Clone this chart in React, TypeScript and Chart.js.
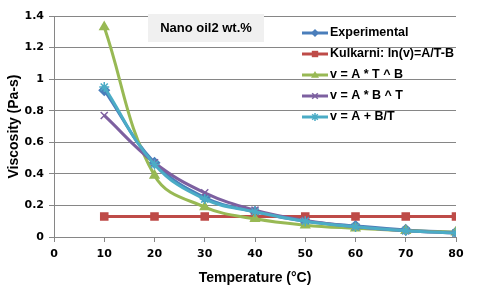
import React, { useEffect, useRef } from "react";
import { Chart, registerables } from "chart.js";

Chart.register(...registerables);

const temps = [10, 20, 30, 40, 50, 60, 70, 80];
const experimental = [0.93, 0.47, 0.25, 0.16, 0.1, 0.07, 0.045, 0.03];
const kulkarni = [0.13, 0.13, 0.13, 0.13, 0.13, 0.13, 0.13, 0.13];
const powerFit = [1.33, 0.39, 0.19, 0.115, 0.075, 0.055, 0.04, 0.03];
const expFit = [0.77, 0.47, 0.28, 0.17, 0.105, 0.065, 0.04, 0.025];
const hypFit = [0.95, 0.46, 0.24, 0.16, 0.1, 0.065, 0.04, 0.025];
const seriesNames = [
  "Experimental",
  "Kulkarni: ln(v)=A/T-B",
  "v = A * T ^ B",
  "v = A * B ^ T",
  "v = A + B/T",
];
const seriesColors = ["#4a7ebb", "#be4b48", "#98b954", "#7d60a0", "#4bacc6"];
const seriesPoints = ["rectRot", "rect", "triangle", "crossRot", "star"];
const titleText = "Nano oil2 wt.%";

const FONT = "'Liberation Sans', Arial, sans-serif";
const TICKFONT = "'DejaVu Sans', Verdana, sans-serif";

function marker(ctx: CanvasRenderingContext2D, style: string, x: number, y: number, r: number, color: string) {
  ctx.save();
  ctx.fillStyle = color;
  ctx.strokeStyle = color;
  ctx.lineWidth = 1.5;
  ctx.beginPath();
  if (style === "rectRot") {
    ctx.moveTo(x, y - r);
    ctx.lineTo(x + r, y);
    ctx.lineTo(x, y + r);
    ctx.lineTo(x - r, y);
    ctx.closePath();
    ctx.fill();
  } else if (style === "rect") {
    ctx.rect(x - r * 0.8, y - r * 0.8, r * 1.6, r * 1.6);
    ctx.fill();
  } else if (style === "triangle") {
    ctx.moveTo(x, y - r);
    ctx.lineTo(x + r, y + r * 0.7);
    ctx.lineTo(x - r, y + r * 0.7);
    ctx.closePath();
    ctx.fill();
  } else if (style === "crossRot") {
    ctx.moveTo(x - r * 0.7, y - r * 0.7);
    ctx.lineTo(x + r * 0.7, y + r * 0.7);
    ctx.moveTo(x + r * 0.7, y - r * 0.7);
    ctx.lineTo(x - r * 0.7, y + r * 0.7);
    ctx.stroke();
  } else {
    ctx.moveTo(x - r * 0.7, y - r * 0.7);
    ctx.lineTo(x + r * 0.7, y + r * 0.7);
    ctx.moveTo(x + r * 0.7, y - r * 0.7);
    ctx.lineTo(x - r * 0.7, y + r * 0.7);
    ctx.moveTo(x, y - r);
    ctx.lineTo(x, y + r);
    ctx.stroke();
  }
  ctx.restore();
}

const overlayPlugin = {
  id: "overlay",
  afterDraw(chart: any) {
    const ctx = chart.ctx as CanvasRenderingContext2D;
    ctx.save();
    // title box
    ctx.fillStyle = "#f0f0f0";
    ctx.fillRect(148, 14, 116, 28);
    ctx.fillStyle = "#000";
    ctx.font = `bold 13px ${FONT}`;
    ctx.textAlign = "center";
    ctx.textBaseline = "middle";
    ctx.fillText(titleText, 206, 28);
    // legend
    ctx.textAlign = "left";
    ctx.font = `bold 12.5px ${FONT}`;
    seriesNames.forEach((name, i) => {
      const y = 33 + i * 21;
      ctx.strokeStyle = seriesColors[i];
      ctx.lineWidth = 3;
      ctx.beginPath();
      ctx.moveTo(302, y);
      ctx.lineTo(328, y);
      ctx.stroke();
      marker(ctx, seriesPoints[i], 315, y, 4, seriesColors[i]);
      ctx.fillStyle = "#000";
      ctx.fillText(name, 330, y);
    });
    ctx.restore();
  },
};

export default function App() {
  const ref = useRef<HTMLCanvasElement>(null);
  useEffect(() => {
    const datas = [experimental, kulkarni, powerFit, expFit, hypFit];
    const chart = new Chart(ref.current!, {
      type: "line",
      data: {
        labels: temps,
        datasets: datas.map((d, i) => ({
          label: seriesNames[i],
          data: d.map((v, j) => ({ x: temps[j], y: v })),
          borderColor: seriesColors[i],
          backgroundColor: seriesColors[i],
          pointBorderColor: seriesColors[i],
          pointStyle: seriesPoints[i] as any,
          pointRadius: 5,
          pointBorderWidth: 1.5,
          borderWidth: 3,
          tension: 0.4,
          order: 4 - i,
        })),
      },
      options: {
        animation: false,
        responsive: false,
        layout: { padding: { top: 16, right: 27, left: 6, bottom: 10 } },
        plugins: { legend: { display: false }, tooltip: { enabled: false } },
        scales: {
          x: {
            type: "linear",
            min: 0,
            max: 80,
            ticks: {
              stepSize: 10,
              color: "#000",
              font: { family: TICKFONT, size: 11, weight: "bold" },
              padding: 6,
            },
            grid: { display: true, drawOnChartArea: false, color: "#868686", tickLength: 5 },
            border: { color: "#868686" },
            title: {
              display: true,
              text: "Temperature (°C)",
              color: "#000",
              font: { family: FONT, size: 14, weight: "bold" },
              padding: { top: 0, bottom: 0 },
            },
            afterFit(scale: any) {
              scale.height = 50;
            },
          },
          y: {
            min: 0,
            max: 1.4,
            ticks: {
              stepSize: 0.2,
              color: "#000",
              font: { family: TICKFONT, size: 11, weight: "bold" },
              padding: 5,
              callback: (v: any) => String(Math.round(Number(v) * 10) / 10),
            },
            grid: { color: "#868686", tickLength: 5 },
            border: { color: "#868686" },
            title: {
              display: true,
              text: "Viscosity (Pa-s)",
              color: "#000",
              font: { family: FONT, size: 14, weight: "bold" },
              padding: { top: 0, bottom: 0 },
            },
            afterFit(scale: any) {
              scale.width = 48;
            },
          },
        },
      },
      plugins: [overlayPlugin],
    } as any);
    return () => chart.destroy();
  }, []);
  return (
    <div style={{ position: "fixed", left: 0, top: 0, width: 483, height: 297, background: "#fff" }}>
      <canvas ref={ref} width={483} height={297} />
    </div>
  );
}
